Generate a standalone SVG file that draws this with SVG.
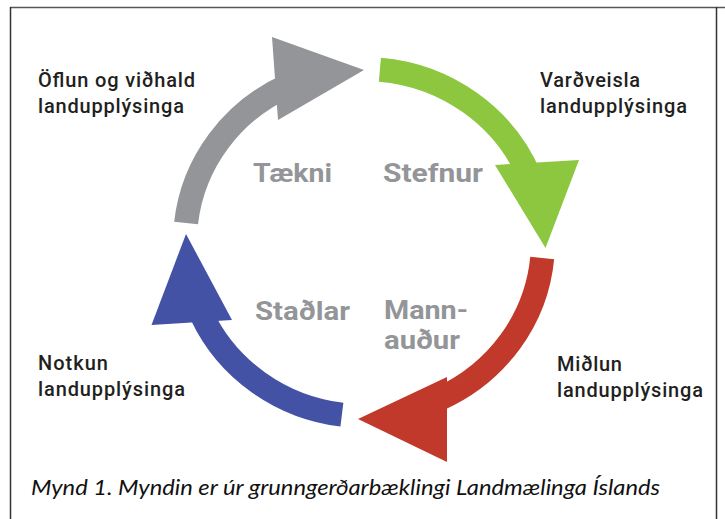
<svg xmlns="http://www.w3.org/2000/svg" width="725" height="519" viewBox="0 0 725 519">
<style>
.lbl{font-family:Roboto,"Liberation Sans",sans-serif;font-size:20px;font-weight:500;fill:#231f20}
.core{font-family:Roboto,"Liberation Sans",sans-serif;font-size:26px;font-weight:bold;fill:#939598}
.cap{font-family:Lato,"Liberation Sans",sans-serif;font-size:22px;font-style:italic;fill:#111}
.shaft{fill:none;stroke-width:24;stroke-linecap:butt}
</style>
<rect width="725" height="519" fill="#fff"/>
<g id="frame" stroke="#333" stroke-width="1.5" fill="none">
<line x1="10" y1="7.5" x2="725" y2="7.5" stroke="#555"/>
<line x1="10.5" y1="7" x2="10.5" y2="519"/>
<line x1="716.5" y1="7" x2="716.5" y2="519"/>
</g>
<g id="connectors">
<path class="shaft" stroke="#939598" d="M186.1,223 A179,173 0 0 1 288.4,85.2"/>
<polygon fill="#939598" points="272,37 364,70 278,120"/>
<path class="shaft" stroke="#8dc63f" d="M379.9,69.7 A179,173 0 0 1 530,177.2"/>
<polygon fill="#8dc63f" points="495,165 579,160 545.5,248"/>
<path class="shaft" stroke="#c0392b" d="M542.2,258 A179,173 0 0 1 439.6,398.8"/>
<polygon fill="#c0392b" points="447,377 358,419 447,462"/>
<path class="shaft" stroke="#4452a6" d="M341.9,414.7 A179,173 0 0 1 201.8,315.1"/>
<polygon fill="#4452a6" points="232,320 186,234 151.5,325"/>
</g>
<g id="n-oflun"><text class="lbl" x="38" y="87" textLength="157" lengthAdjust="spacing">Öflun og viðhald</text><text class="lbl" x="38" y="113" textLength="146" lengthAdjust="spacing">landupplýsinga</text></g>
<g id="n-vardveisla"><text class="lbl" x="540" y="87" textLength="100" lengthAdjust="spacing">Varðveisla</text><text class="lbl" x="540" y="113" textLength="147" lengthAdjust="spacing">landupplýsinga</text></g>
<g id="n-notkun"><text class="lbl" x="38" y="370" textLength="70" lengthAdjust="spacing">Notkun</text><text class="lbl" x="38" y="396" textLength="147" lengthAdjust="spacing">landupplýsinga</text></g>
<g id="n-midlun"><text class="lbl" x="557" y="371" textLength="65" lengthAdjust="spacing">Miðlun</text><text class="lbl" x="557" y="397" textLength="146" lengthAdjust="spacing">landupplýsinga</text></g>
<g id="n-taekni"><text class="core" x="253" y="182" textLength="79" lengthAdjust="spacingAndGlyphs">Tækni</text></g>
<g id="n-stefnur"><text class="core" x="383" y="182" textLength="100" lengthAdjust="spacingAndGlyphs">Stefnur</text></g>
<g id="n-stadlar"><text class="core" x="255" y="320" textLength="95" lengthAdjust="spacingAndGlyphs">Staðlar</text></g>
<g id="n-mannaudur"><text class="core" x="384" y="319" textLength="84" lengthAdjust="spacingAndGlyphs">Mann-</text><text class="core" x="384" y="349" textLength="76" lengthAdjust="spacingAndGlyphs">auður</text></g>
<g id="caption"><text class="cap" x="31" y="495" textLength="629" lengthAdjust="spacingAndGlyphs">Mynd 1. Myndin er úr grunngerðarbæklingi Landmælinga Íslands</text></g>
</svg>
